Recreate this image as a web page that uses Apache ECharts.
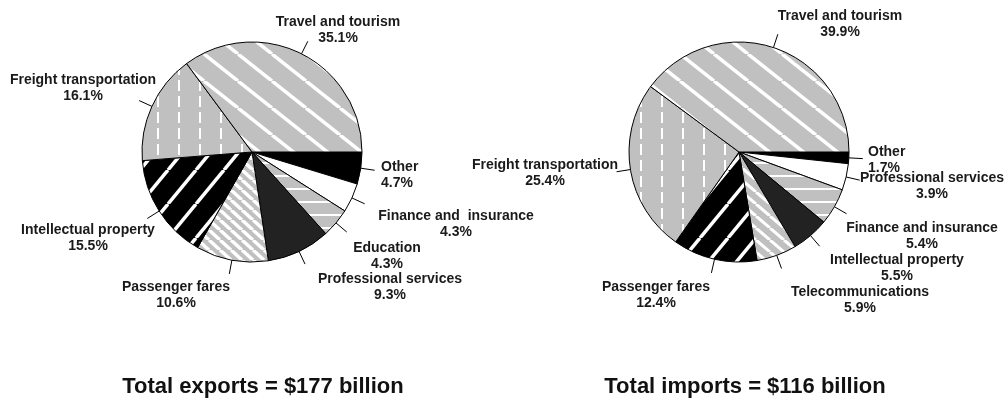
<!DOCTYPE html>
<html>
<head>
<meta charset="utf-8">
<script src="https://cdn.jsdelivr.net/npm/echarts@6/dist/echarts.min.js"></script>
<style>
  html, body { margin: 0; padding: 0; background: #ffffff; }
  #chart { width: 1008px; height: 413px; }
</style>
</head>
<body>
<div id="chart"></div>
<script>
// Shares of U.S. services trade by category, percent of total
const exportCategories = ['Other', 'Finance and  insurance', 'Education', 'Professional services',
  'Passenger fares', 'Intellectual property', 'Freight transportation', 'Travel and tourism'];
const exportShares = [4.7, 4.3, 4.3, 9.3, 10.6, 15.5, 16.1, 35.1];

const importCategories = ['Other', 'Professional services', 'Finance and insurance', 'Intellectual property',
  'Telecommunications', 'Passenger fares', 'Freight transportation', 'Travel and tourism'];
const importShares = [1.7, 3.9, 5.4, 5.5, 5.9, 12.4, 25.4, 39.9];

const exportTitle = 'Total exports = $177 billion';
const importTitle = 'Total imports = $116 billion';

// Fill style per slice (keys into the pattern table below)
const exportFills = ['black', 'white', 'hlines', 'dark', 'checker', 'blackStripe', 'vdash', 'diag'];
const importFills = ['black', 'white', 'hlines', 'dark', 'fineDiag', 'blackStripe', 'vdash', 'diag'];

// Label anchor points [x, y, align]
const exportLabelPos = [[381, 175, 'left'], [456, 224], [387, 256], [390, 287],
  [176, 295], [88, 238], [83, 88], [338, 30]];
const importLabelPos = [[868, 160, 'left'], [932, 186], [922, 236], [897, 268],
  [860, 300], [656, 295], [545, 173], [840, 24]];

const GRAY = '#c0c0c0';

function makeTile(w, h, bg, draw) {
  const c = document.createElement('canvas');
  c.width = w; c.height = h;
  const g = c.getContext('2d');
  g.fillStyle = bg;
  g.fillRect(0, 0, w, h);
  if (draw) draw(g, w, h);
  return { image: c, repeat: 'repeat' };
}

function diagonal(w, h, bg, fg, lw, rising) {
  return makeTile(w, h, bg, function (g) {
    g.strokeStyle = fg;
    g.lineWidth = lw;
    for (let k = -1; k <= 1; k++) {
      g.beginPath();
      if (rising) { g.moveTo(k * w, h); g.lineTo(k * w + w, 0); }
      else { g.moveTo(k * w, 0); g.lineTo(k * w + w, h); }
      g.stroke();
    }
  });
}

const patterns = {
  black: '#000000',
  white: '#ffffff',
  dark: '#222222',
  diag: diagonal(34, 27, GRAY, '#ffffff', 3.5, false),
  checker: diagonal(11, 10, GRAY, '#ffffff', 3.5, false),
  fineDiag: diagonal(14, 12, GRAY, '#ffffff', 3, false),
  blackStripe: diagonal(28, 34, '#000000', '#ffffff', 3.5, true),
  hlines: makeTile(8, 13, GRAY, function (g, w) { g.fillStyle = '#ffffff'; g.fillRect(0, 6, w, 2); }),
  vdash: makeTile(21, 16, GRAY, function (g) { g.fillStyle = '#ffffff'; g.fillRect(10, 0, 2, 11); })
};

function buildData(names, values, fills) {
  return names.map(function (n, i) {
    return { name: n, value: values[i], itemStyle: { color: patterns[fills[i]] } };
  });
}

function pieSeries(names, values, fills, labelPos, center) {
  return {
    type: 'pie',
    center: center,
    radius: 110,
    startAngle: 0,
    clockwise: true,
    avoidLabelOverlap: false,
    animation: false,
    emphasis: { disabled: true },
    itemStyle: { borderColor: '#000000', borderWidth: 1 },
    label: {
      show: true,
      position: 'outside',
      color: '#1a1a1a',
      fontFamily: '"Liberation Sans", Arial, sans-serif',
      fontWeight: 'bold',
      fontSize: 14,
      lineHeight: 16,
      formatter: function (p) { return p.name + '\n' + p.value.toFixed(1) + '%'; }
    },
    labelLine: {
      show: true,
      length: 14,
      length2: 0,
      smooth: false,
      lineStyle: { color: '#000000', width: 1 }
    },
    labelLayout: function (params) {
      const pos = labelPos[params.dataIndex];
      const out = {
        x: pos[0],
        y: pos[1],
        align: pos[2] || 'center',
        verticalAlign: 'middle'
      };
      const pts = params.labelLinePoints;
      if (pts && pts.length >= 2) {
        out.labelLinePoints = [pts[0], pts[1]];
      }
      return out;
    },
    data: buildData(names, values, fills)
  };
}

const chart = echarts.init(document.getElementById('chart'), null, { renderer: 'canvas' });

const titleStyle = {
  color: '#111111',
  fontFamily: '"Liberation Sans", Arial, sans-serif',
  fontWeight: 'bold',
  fontSize: 22
};

chart.setOption({
  backgroundColor: '#ffffff',
  animation: false,
  title: [
    { text: exportTitle, left: 258, top: 371, textAlign: 'center', textStyle: titleStyle },
    { text: importTitle, left: 740, top: 371, textAlign: 'center', textStyle: titleStyle }
  ],
  series: [
    pieSeries(exportCategories, exportShares, exportFills, exportLabelPos, [252, 152]),
    pieSeries(importCategories, importShares, importFills, importLabelPos, [739, 152])
  ]
});
</script>
</body>
</html>
